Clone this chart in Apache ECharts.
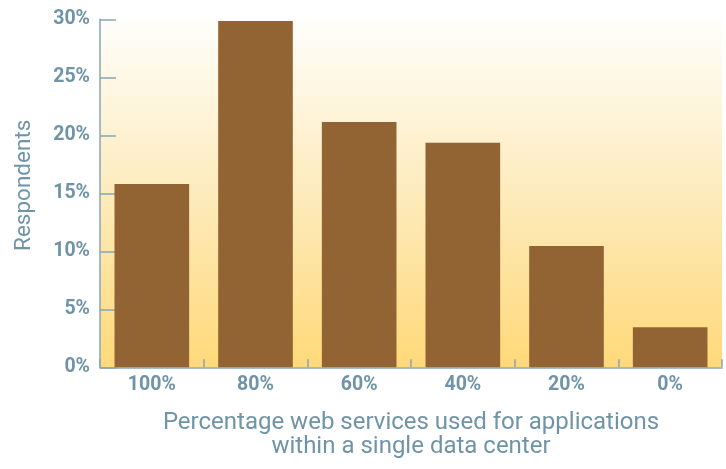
<!DOCTYPE html>
<html>
<head>
<meta charset="utf-8">
<script src="https://cdn.jsdelivr.net/npm/echarts@6/dist/echarts.min.js"></script>
<style>
  html, body { margin: 0; padding: 0; background: #ffffff; }
  #chart { width: 726px; height: 469px; }
</style>
</head>
<body>
<div id="chart"></div>
<script>
// Share of respondents by percentage of web services used within a single data center
const categories = ['100%', '80%', '60%', '40%', '20%', '0%'];
const respondents = [15.8, 29.85, 21.15, 19.35, 10.45, 3.45];
const yTicks = { min: 0, max: 30, interval: 5 };

const textColor = '#6f94a7';
const axisColor = '#86a6b6';
const labelFont = 'Roboto, sans-serif';

const chart = echarts.init(document.getElementById('chart'), null, { renderer: 'canvas' });

chart.setOption({
  animation: false,
  grid: {
    left: 100,
    right: 4,
    top: 19.3,
    bottom: 101.7,
    show: true,
    borderWidth: 0,
    backgroundColor: new echarts.graphic.LinearGradient(0, 0, 0, 1, [
      { offset: 0, color: '#fffefb' },
      { offset: 0.5, color: '#fdebbc' },
      { offset: 1, color: '#ffd979' }
    ])
  },
  xAxis: {
    type: 'category',
    data: categories,
    name: 'Percentage web services used for applications\nwithin a single data center',
    nameLocation: 'middle',
    nameGap: 44,
    nameTextStyle: {
      color: textColor,
      fontFamily: labelFont,
      fontSize: 24,
      lineHeight: 24,
      verticalAlign: 'top'
    },
    axisLine: { show: true, lineStyle: { color: axisColor, width: 1.5 } },
    axisTick: { show: true, inside: true, length: 8, lineStyle: { color: axisColor, width: 1.5 } },
    axisLabel: {
      color: textColor,
      fontFamily: labelFont,
      fontWeight: 'bold',
      fontSize: 19.5,
      margin: 8
    },
    splitLine: { show: false }
  },
  yAxis: {
    type: 'value',
    min: yTicks.min,
    max: yTicks.max,
    interval: yTicks.interval,
    name: 'Respondents',
    nameLocation: 'middle',
    nameGap: 64,
    nameTextStyle: {
      color: textColor,
      fontFamily: labelFont,
      fontSize: 22.5,
      padding: [0, 0, 0, 16]
    },
    axisLine: { show: true, lineStyle: { color: axisColor, width: 1.5 } },
    axisTick: { show: true, inside: true, length: 16, lineStyle: { color: axisColor, width: 1.5 } },
    axisLabel: {
      color: textColor,
      fontFamily: labelFont,
      fontWeight: 'bold',
      fontSize: 19.5,
      margin: 10,
      formatter: '{value}%'
    },
    splitLine: { show: false }
  },
  series: [{
    type: 'bar',
    data: respondents,
    barWidth: '72%',
    itemStyle: { color: '#936433' },
    z: 3
  }]
});
</script>
</body>
</html>
